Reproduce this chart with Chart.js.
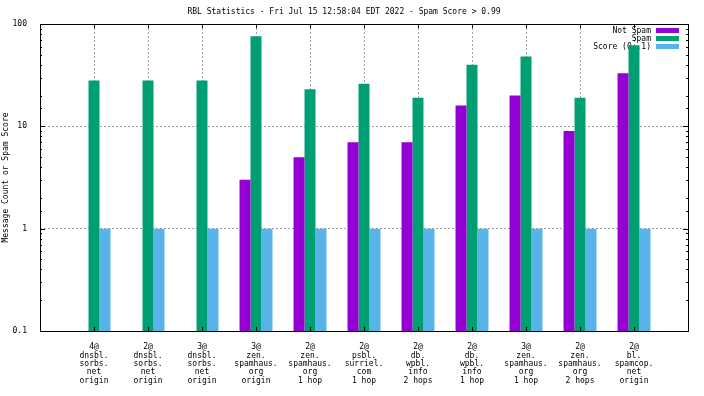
<!DOCTYPE html>
<html>
<head>
<meta charset="utf-8">
<script src="https://cdn.jsdelivr.net/npm/chart.js@4/dist/chart.umd.min.js"></script>
<style>
  html, body { margin: 0; padding: 0; background: #fff; }
  #wrap { width: 704px; height: 396px; }
</style>
</head>
<body>
<div id="wrap"><canvas id="c" width="704" height="396"></canvas></div>
<script>
const categories = [
    ['4@', 'dnsbl.', 'sorbs.', 'net', 'origin'],
    ['2@', 'dnsbl.', 'sorbs.', 'net', 'origin'],
    ['3@', 'dnsbl.', 'sorbs.', 'net', 'origin'],
    ['3@', 'zen.', 'spamhaus.', 'org', 'origin'],
    ['2@', 'zen.', 'spamhaus.', 'org', '1 hop'],
    ['2@', 'psbl.', 'surriel.', 'com', '1 hop'],
    ['2@', 'db.', 'wpbl.', 'info', '2 hops'],
    ['2@', 'db.', 'wpbl.', 'info', '1 hop'],
    ['3@', 'zen.', 'spamhaus.', 'org', '1 hop'],
    ['2@', 'zen.', 'spamhaus.', 'org', '2 hops'],
    ['2@', 'bl.', 'spamcop.', 'net', 'origin']
];
const notSpam = [null, null, null, 3, 5, 7, 7, 16, 20, 9, 33];
const spam = [28, 28, 28, 76, 23, 26, 19, 40, 48, 19, 62];
const score = [1, 1, 1, 1, 1, 1, 1, 1, 1, 1, 1];
const yTickLabels = [0.1, 1, 10, 100];

const chartTitle = 'RBL Statistics - Fri Jul 15 12:58:04 EDT 2022 - Spam Score > 0.99';
const yTitle = 'Message Count or Spam Score';

const FONT = '"DejaVu Sans Mono", "Liberation Mono", monospace';

// empty slots at each end so the categories sit where gnuplot put them
const pad = arr => [null, ...arr, null];
const labels = [[''], ...categories, ['']];

const isDecade = v => Math.abs(Math.log10(v) - Math.round(Math.log10(v))) < 1e-6;

// frame, inward ticks and the key, drawn gnuplot-style
const gnuplotBits = {
    id: 'gnuplotBits',
    beforeDatasetsDraw(chart) {
        const ctx = chart.ctx;
        const area = chart.chartArea;
        ctx.save();
        ctx.font = '8px ' + FONT;
        ctx.textAlign = 'right';
        ctx.textBaseline = 'middle';
        chart.data.datasets.forEach((ds, i) => {
            const y = area.top + 7 + i * 8;
            ctx.fillStyle = '#000';
            ctx.fillText(ds.label, area.right - 37, y);
            ctx.fillStyle = ds.backgroundColor;
            ctx.fillRect(area.right - 32, y - 3, 23, 5);
        });
        ctx.restore();
    },
    afterDatasetsDraw(chart) {
        const ctx = chart.ctx;
        const area = chart.chartArea;
        const x = chart.scales.x;
        const y = chart.scales.y;
        ctx.save();
        ctx.strokeStyle = '#000';
        ctx.lineWidth = 1;
        ctx.beginPath();
        y.ticks.forEach(t => {
            const py = Math.round(y.getPixelForValue(t.value)) + 0.5;
            const len = isDecade(t.value) ? 5 : 2;
            ctx.moveTo(area.left, py); ctx.lineTo(area.left + len, py);
            ctx.moveTo(area.right, py); ctx.lineTo(area.right - len, py);
        });
        for (let i = 1; i <= categories.length; i++) {
            const px = Math.round(x.getPixelForValue(i)) + 0.5;
            ctx.moveTo(px, area.top); ctx.lineTo(px, area.top + 4);
            ctx.moveTo(px, area.bottom); ctx.lineTo(px, area.bottom - 4);
        }
        ctx.stroke();
        ctx.strokeRect(Math.round(area.left) + 0.5, Math.round(area.top) + 0.5,
            Math.round(area.right - area.left), Math.round(area.bottom - area.top));
        ctx.restore();
    }
};

new Chart(document.getElementById('c'), {
    type: 'bar',
    data: {
        labels,
        datasets: [
            { label: 'Not Spam', data: pad(notSpam), backgroundColor: '#9400D3' },
            { label: 'Spam', data: pad(spam), backgroundColor: '#009E73' },
            { label: 'Score (0..1)', data: pad(score), backgroundColor: '#56B4E9' }
        ]
    },
    options: {
        responsive: false,
        animation: false,
        devicePixelRatio: 1,
        layout: { padding: { left: 0, right: 16, top: 0, bottom: 0 } },
        datasets: {
            bar: { categoryPercentage: 0.61, barPercentage: 1.0, borderWidth: 0 }
        },
        plugins: {
            legend: { display: false },
            tooltip: { enabled: false },
            title: {
                display: true,
                text: chartTitle,
                color: '#000',
                font: { family: FONT, size: 8, weight: 'normal', lineHeight: 1 },
                padding: { top: 8, bottom: 8 }
            }
        },
        scales: {
            x: {
                type: 'category',
                offset: false,
                grid: {
                    offset: false,
                    drawTicks: false,
                    color: c => (c.index === 0 || c.index === labels.length - 1) ? 'rgba(0,0,0,0)' : '#a0a0a0',
                    lineWidth: 1
                },
                border: { display: false, dash: [2, 2] },
                ticks: {
                    color: '#000',
                    padding: 12,
                    maxRotation: 0,
                    autoSkip: false,
                    font: { family: FONT, size: 8, lineHeight: 1.05 }
                },
                afterFit: s => { s.height = 65; }
            },
            y: {
                type: 'logarithmic',
                min: 0.1,
                max: 100,
                grid: {
                    drawTicks: false,
                    color: c => (c.tick && isDecade(c.tick.value) && c.tick.value > 0.11 && c.tick.value < 99) ? '#a0a0a0' : 'rgba(0,0,0,0)',
                    lineWidth: 1
                },
                border: { display: false, dash: [2, 2] },
                ticks: {
                    color: '#000',
                    padding: 13,
                    autoSkip: false,
                    font: { family: FONT, size: 8 },
                    callback: v => {
                        const hit = yTickLabels.find(t => Math.abs(t - v) < 1e-9);
                        return hit === undefined ? '' : String(hit);
                    }
                },
                title: {
                    display: true,
                    text: yTitle,
                    color: '#000',
                    font: { family: FONT, size: 8, lineHeight: 1 },
                    padding: { top: 2, bottom: 0 }
                },
                afterFit: s => { s.width = 40; }
            }
        }
    },
    plugins: [gnuplotBits]
});
</script>
</body>
</html>
